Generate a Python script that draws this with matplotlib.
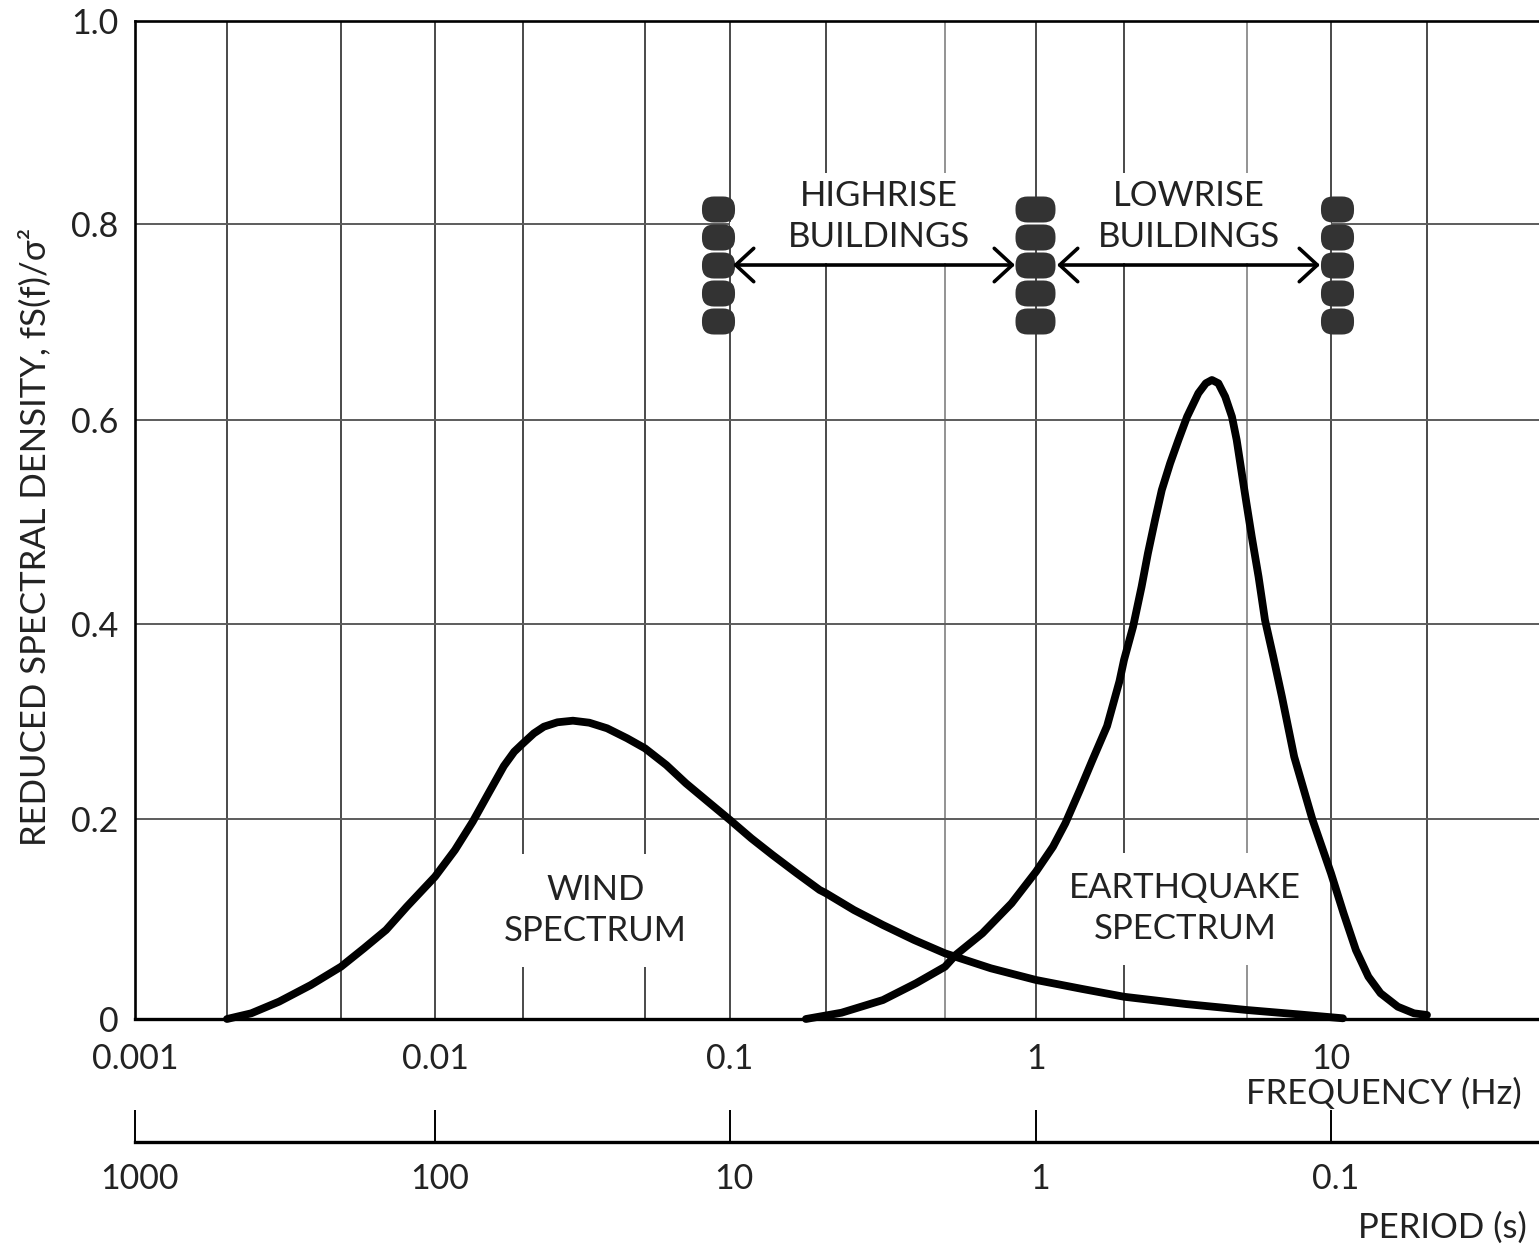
import matplotlib
matplotlib.use('Agg')
import matplotlib.pyplot as plt
import numpy as np
from matplotlib.patches import FancyBboxPatch
from matplotlib.transforms import ScaledTranslation

plt.rcParams['font.family'] = ['Lato', 'DejaVu Sans']

W, H = 1539, 1249
FONT = 25
TICK_FONT = 24.5
TEXT_COLOR = '#222222'

# curves: frequency (Hz), reduced spectral density
wind_freq = [0.002, 0.00243, 0.00304, 0.00392, 0.005, 0.00592, 0.00697, 0.00812, 0.01, 0.0117,
             0.01346, 0.01524, 0.0172, 0.01866, 0.02, 0.0217, 0.0234, 0.0259, 0.0291, 0.0329,
             0.0376, 0.0437, 0.05, 0.0595, 0.0698, 0.0836, 0.1, 0.1167, 0.136, 0.162,
             0.191, 0.2, 0.248, 0.31, 0.394, 0.5, 0.709, 1, 1.44, 2,
             3.17, 5, 7.6, 10.9]
wind_val = [0, 0.0057, 0.0174, 0.034, 0.0524, 0.0708, 0.0892, 0.1125, 0.1426, 0.1693,
            0.1977, 0.2261, 0.2535, 0.2678, 0.2762, 0.2862, 0.2929, 0.2973, 0.2989, 0.2969,
            0.2913, 0.2813, 0.2712, 0.2545, 0.2362, 0.2177, 0.1994, 0.181, 0.1643, 0.146,
            0.1293, 0.126, 0.1092, 0.0942, 0.0792, 0.0658, 0.0508, 0.0391, 0.0301, 0.0223,
            0.015, 0.009, 0.0047, 0.0007]
quake_freq = [0.173, 0.2254, 0.31, 0.4, 0.5, 0.542, 0.665, 0.83, 1, 1.143,
              1.26, 1.413, 1.56, 1.75, 1.93, 2.0, 2.14, 2.28, 2.39, 2.52,
              2.65, 2.82, 3.0, 3.2, 3.48, 3.68, 3.85, 4.04, 4.25, 4.47,
              4.63, 4.81, 4.98, 5.2, 5.5, 5.8, 6.21, 6.67, 7.38, 8.59,
              10, 10.95, 11.97, 13.1, 14.3, 16.2, 18.2, 20]
quake_val = [0, 0.0063, 0.019, 0.0358, 0.0524, 0.0641, 0.0859, 0.1159, 0.1476, 0.1726,
             0.1961, 0.2295, 0.2595, 0.2935, 0.3385, 0.3597, 0.3931, 0.4332, 0.4666, 0.5,
             0.53, 0.5568, 0.5802, 0.6035, 0.627, 0.637, 0.6403, 0.637, 0.6236, 0.6035,
             0.5802, 0.5468, 0.5167, 0.4833, 0.4432, 0.3998, 0.363, 0.323, 0.2628, 0.1994,
             0.146, 0.1059, 0.0691, 0.0424, 0.0258, 0.0123, 0.0057, 0.004]

freq_ticks = [0.001, 0.01, 0.1, 1, 10]
freq_labels = ['0.001', '0.01', '0.1', '1', '10']
period_ticks = [1000, 100, 10, 1, 0.1]
period_labels = ['1000', '100', '10', '1', '0.1']
y_ticks = [0, 0.2, 0.396, 0.6, 0.797, 1.0]
y_labels = ['0', '0.2', '0.4', '0.6', '0.8', '1.0']

grid_dark = [0.002, 0.005, 0.01, 0.02, 0.05, 0.1, 0.2, 1, 2, 10, 20]
grid_light = [0.5, 5]

# the printed log axis is not quite even, so calibrate it on its gridlines
scale_freq = [0.001, 0.002, 0.005, 0.01, 0.02, 0.05, 0.1, 0.2, 0.5, 1, 2, 5, 10, 20, 50]
scale_px = [135, 227, 341, 435, 523, 645, 730, 826, 945, 1036, 1124, 1247, 1331, 1427, 1539]
log_freq = np.log10(scale_freq)


def forward(f):
    f = np.maximum(np.asarray(f, dtype=float), 1e-6)
    return np.interp(np.log10(f), log_freq, scale_px)


def inverse(p):
    return 10 ** np.interp(p, scale_px, log_freq)


def px_axes(left, top, right, bottom):
    return fig.add_axes([left / W, 1 - bottom / H, (right - left) / W, (bottom - top) / H])


def stack_marker(width, height, radius):
    box = FancyBboxPatch((-width / 2, -height / 2), width, height,
                         boxstyle=f'round,pad=0,rounding_size={radius}')
    return box.get_path()


fig = plt.figure(figsize=(W / 100, H / 100), dpi=100, facecolor='white')
ax = px_axes(135, 21, 1539, 1019)
ax.set_xscale('function', functions=(forward, inverse))
ax.set_xlim(0.001, 50)
ax.set_ylim(0, 1)

ax.vlines(grid_dark, 0, 1, color='#3c3c3c', lw=1.3, zorder=1)
ax.vlines(grid_light, 0, 1, color='#8a8a8a', lw=1.3, zorder=1)
ax.hlines(y_ticks[1:5], 0.001, 50, color='#5c5c5c', lw=1.4, zorder=1)

# gaps in the grid behind the labels
ax.vlines([0.02, 0.05], 0.052, 0.165, color='white', lw=3, zorder=1.5)
ax.vlines([2, 5], 0.054, 0.166, color='white', lw=3, zorder=1.5)
ax.vlines([0.2, 0.5, 2, 5], 0.758, 0.848, color='white', lw=3, zorder=1.5)
ax.hlines(0.797, 0.1, 10, color='white', lw=3, zorder=1.5)

ax.plot(wind_freq, wind_val, color='black', lw=5.6, solid_capstyle='round',
        solid_joinstyle='round', clip_on=False, zorder=3)
ax.plot(quake_freq, quake_val, color='black', lw=5.6, solid_capstyle='round',
        solid_joinstyle='round', clip_on=False, zorder=3)

# building stacks
stack_val = [0.8116, 0.7836, 0.7555, 0.7275, 0.6994]
for f, w, ms in [(0.0907, 33, 23.8), (0.995, 40, 28.8), (10.44, 33, 23.8)]:
    marker = stack_marker(w, 26, 12)
    ax.plot([f] * 5, stack_val, ls='none', marker=marker, ms=ms, mfc='#333333', mec='none', zorder=4)

for f0, f1 in [(0.1022, 0.852), (1.18, 9.13)]:
    ax.annotate('', xy=(f1, 0.7555), xytext=(f0, 0.7555), zorder=5,
                arrowprops=dict(arrowstyle='<->,head_length=13,head_width=12', mutation_scale=1,
                                color='black', lw=2.6, shrinkA=0, shrinkB=0))

label_style = dict(ha='center', va='center', fontsize=FONT, color=TEXT_COLOR, linespacing=1.36)
ax.text(0.0345, 0.109, 'WIND\nSPECTRUM', **label_style)
ax.text(3.15, 0.111, 'EARTHQUAKE\nSPECTRUM', **label_style)
ax.text(0.3, 0.804, 'HIGHRISE\nBUILDINGS', **label_style)
ax.text(3.25, 0.804, 'LOWRISE\nBUILDINGS', **label_style)

ax.set_xticks(freq_ticks)
ax.set_xticklabels(freq_labels)
ax.minorticks_off()
ax.set_yticks(y_ticks)
ax.set_yticklabels(y_labels)
ax.tick_params(axis='both', length=0, labelsize=TICK_FONT, labelcolor=TEXT_COLOR)
ax.tick_params(axis='x', pad=17)
ax.tick_params(axis='y', pad=12)
ax.spines['right'].set_visible(False)
for side in ['top', 'left']:
    ax.spines[side].set_linewidth(1.9)
ax.spines['bottom'].set_linewidth(2.4)
fig.text(35 / W, 1 - 537 / H, 'REDUCED SPECTRAL DENSITY, fS(f)/σ²', rotation=90, ha='center', va='center',
         fontsize=25, color=TEXT_COLOR)

# period scale below the frequency axis
ax2 = px_axes(135, 1110, 1539, 1142)
ax2.set_xscale('function', functions=(forward, inverse))
ax2.set_xlim(0.001, 50)
ax2.set_ylim(0, 1)
ax2.patch.set_visible(False)
ax2.yaxis.set_visible(False)
for side in ['top', 'left', 'right']:
    ax2.spines[side].set_visible(False)
ax2.spines['bottom'].set_linewidth(2.4)
ax2.set_xticks(1 / np.array(period_ticks))
ax2.set_xticklabels(period_labels)
ax2.minorticks_off()
ax2.tick_params(axis='x', direction='in', length=23, width=1.4, labelsize=TICK_FONT, labelcolor=TEXT_COLOR, pad=15)
# these labels sit a little right of their ticks
shift = ScaledTranslation(3 / 72, 0, fig.dpi_scale_trans)
for tick_label in ax2.get_xticklabels():
    tick_label.set_transform(tick_label.get_transform() + shift)

fig.text(1522 / W, 1 - 1094 / H, 'FREQUENCY (Hz)', ha='right', va='center', fontsize=FONT, color=TEXT_COLOR)
fig.text(1527 / W, 1 - 1228 / H, 'PERIOD (s)', ha='right', va='center', fontsize=FONT, color=TEXT_COLOR)

fig.savefig('out.png', dpi=100, facecolor='white')
